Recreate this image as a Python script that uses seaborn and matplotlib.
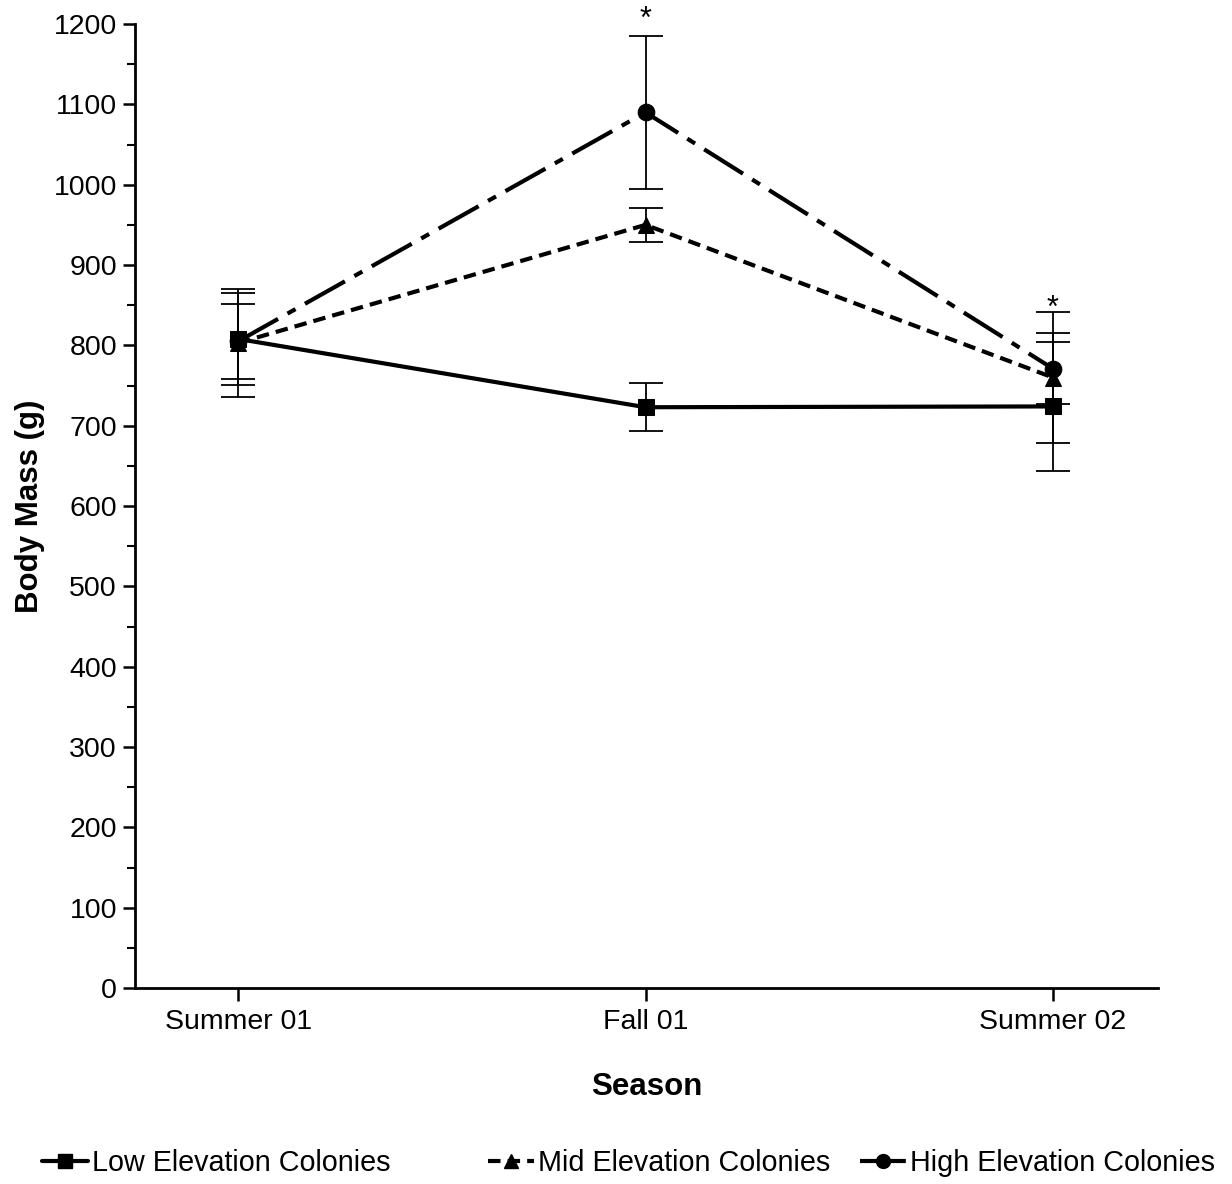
import numpy as np
import pandas as pd
import matplotlib
matplotlib.use("Agg")
import matplotlib.pyplot as plt
from matplotlib.ticker import MultipleLocator
from matplotlib.lines import Line2D
import seaborn as sns

# Data: mean body mass (g) and error per season
seasons = ["Summer 01", "Fall 01", "Summer 02"]
low_mass = [808, 723, 724]
low_err = [57, 30, 80]
mid_mass = [803, 950, 760]
mid_err = [67, 21, 82]
high_mass = [805, 1090, 771]
high_err = [47, 95, 44]
colonies = ["Low Elevation Colonies", "Mid Elevation Colonies", "High Elevation Colonies"]
sig_seasons = ["Fall 01", "Summer 02"]
sig_heights = [1205, 845]

sns.set_style("ticks")
plt.rcParams["font.family"] = ["Liberation Sans", "DejaVu Sans"]
plt.rcParams["text.color"] = "black"
plt.rcParams["axes.labelcolor"] = "black"

pos = np.arange(len(seasons))
df = pd.DataFrame({
    "pos": np.tile(pos, 3),
    "mass": low_mass + mid_mass + high_mass,
    "err": low_err + mid_err + high_err,
    "colony": np.repeat(colonies, len(seasons)),
})

fig = plt.figure(figsize=(12.32, 11.84), dpi=100)
ax = fig.add_axes([0.1096, 0.1655, 0.8304, 0.8142])

lw = 3.0
dashes = {colonies[0]: "", colonies[1]: (3.0, 1.7), colonies[2]: (11.0, 2.6, 2.2, 2.6)}
markers = {colonies[0]: "s", colonies[1]: "^", colonies[2]: "o"}

# error bars drawn first so the markers sit on top
for name, sub in df.groupby("colony", sort=False):
    ax.errorbar(sub["pos"], sub["mass"], yerr=sub["err"], fmt="none",
                ecolor="black", elinewidth=1.3, capsize=12, capthick=1.3, zorder=2)

sns.lineplot(data=df, x="pos", y="mass", hue="colony", style="colony",
             palette=["black"] * 3, dashes=dashes, markers=markers,
             markersize=12, markeredgecolor="black", linewidth=lw,
             legend=False, ax=ax, zorder=3, sort=False)

for s, h in zip(sig_seasons, sig_heights):
    ax.text(seasons.index(s), h, "*", ha="center", va="center",
            fontsize=22, clip_on=False)

ax.set_xlim(-0.253, 2.258)
ax.set_ylim(0, 1200)
ax.set_xticks(pos)
ax.set_xticklabels(seasons)
ax.yaxis.set_major_locator(MultipleLocator(100))
ax.yaxis.set_minor_locator(MultipleLocator(50))
ax.tick_params(axis="y", which="major", direction="out", length=9, width=1.8,
               labelsize=20.5, pad=4, color="black", labelcolor="black")
ax.tick_params(axis="y", which="minor", direction="out", length=6, width=1.5,
               color="black")
ax.tick_params(axis="x", which="major", direction="out", length=9, width=1.8,
               labelsize=20.5, pad=6, color="black", labelcolor="black")
for sp in ["left", "bottom"]:
    ax.spines[sp].set_linewidth(2.0)
    ax.spines[sp].set_color("black")
sns.despine(ax=ax)

ax.set_xlabel("Season", fontsize=22.5, fontweight="bold", labelpad=27, color="black")
ax.set_ylabel("Body Mass (g)", fontsize=22.5, fontweight="bold", labelpad=6, color="black")

# one legend entry per colony, spread along the bottom
anchors = [0.034, 0.396, 0.698]
for name, xa in zip(colonies, anchors):
    ls = "-" if dashes[name] == "" else (0, dashes[name])
    h = Line2D([], [], color="black", linewidth=lw, linestyle=ls,
               marker=markers[name], markersize=10)
    leg = fig.legend(handles=[h], labels=[name], loc="center left",
                     bbox_to_anchor=(xa, 0.0177), frameon=False, fontsize=20.7,
                     handlelength=1.6, handletextpad=0.15, borderpad=0,
                     borderaxespad=0, numpoints=1)
    for t in leg.get_texts():
        t.set_color("black")

fig.savefig("out.png", dpi=100, facecolor="white")
